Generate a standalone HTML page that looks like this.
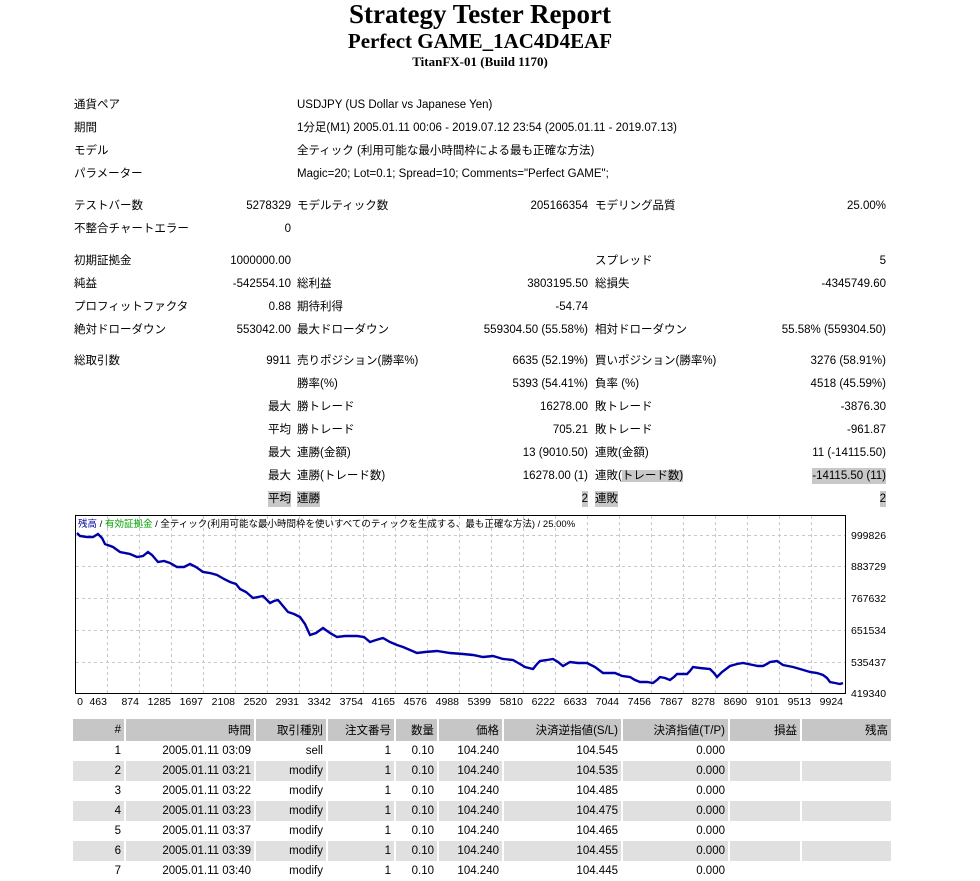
<!DOCTYPE html>
<html><head><meta charset="utf-8"><style>
body{margin:0;width:980px;height:881px;background:#fff;position:relative;overflow:hidden;font-family:"Liberation Sans","Noto Sans CJK JP",sans-serif;font-size:11.5px;color:#000}
.t{position:absolute;white-space:nowrap;line-height:16px}
.r{text-align:right}
.h{font-family:"Liberation Serif","Noto Serif CJK SC",serif;font-weight:bold;position:absolute;left:0;width:960px;text-align:center;white-space:nowrap}
.g{background:#c8c8c8}
.w{position:absolute;left:0;top:2px;width:980px;height:520px}
table{position:absolute;left:71px;top:719px;border-collapse:separate;border-spacing:2px 0;font-size:11.5px}
td{height:20px;padding:0 3px;text-align:right;white-space:nowrap;border-bottom:0}
tr.hd td{background:#c6c6c6;height:22px}
tr.e td{background:#e0e0e0}
</style></head><body>
<div class="h" style="top:-1px;font-size:27px">Strategy Tester Report</div>
<div class="h" style="top:29px;font-size:21px">Perfect GAME_1AC4D4EAF</div>
<div class="h" style="top:54px;font-size:13px">TitanFX-01 (Build 1170)</div>

<div class="t" style="left:74px;top:97px">通貨ペア</div><div class="t" style="left:297px;top:97px">USDJPY (US Dollar vs Japanese Yen)</div>
<div class="t" style="left:74px;top:120px">期間</div><div class="t" style="left:297px;top:120px">1分足(M1) 2005.01.11 00:06 - 2019.07.12 23:54 (2005.01.11 - 2019.07.13)</div>
<div class="t" style="left:74px;top:143px">モデル</div><div class="t" style="left:297px;top:143px">全ティック (利用可能な最小時間枠による最も正確な方法)</div>
<div class="t" style="left:74px;top:166px">パラメーター</div><div class="t" style="left:297px;top:166px">Magic=20; Lot=0.1; Spread=10; Comments="Perfect GAME";</div>

<div class="w">
<div class="t" style="left:74px;top:196px">テストバー数</div><div class="t r" style="right:689px;top:196px">5278329</div>
<div class="t" style="left:297px;top:196px">モデルティック数</div><div class="t r" style="right:392px;top:196px">205166354</div>
<div class="t" style="left:595px;top:196px">モデリング品質</div><div class="t r" style="right:94px;top:196px">25.00%</div>
<div class="t" style="left:74px;top:219px">不整合チャートエラー</div><div class="t r" style="right:689px;top:219px">0</div>

<div class="t" style="left:74px;top:251px">初期証拠金</div><div class="t r" style="right:689px;top:251px">1000000.00</div>
<div class="t" style="left:595px;top:251px">スプレッド</div><div class="t r" style="right:94px;top:251px">5</div>
<div class="t" style="left:74px;top:274px">純益</div><div class="t r" style="right:689px;top:274px">-542554.10</div>
<div class="t" style="left:297px;top:274px">総利益</div><div class="t r" style="right:392px;top:274px">3803195.50</div>
<div class="t" style="left:595px;top:274px">総損失</div><div class="t r" style="right:94px;top:274px">-4345749.60</div>
<div class="t" style="left:74px;top:297px">プロフィットファクタ</div><div class="t r" style="right:689px;top:297px">0.88</div>
<div class="t" style="left:297px;top:297px">期待利得</div><div class="t r" style="right:392px;top:297px">-54.74</div>
<div class="t" style="left:74px;top:320px">絶対ドローダウン</div><div class="t r" style="right:689px;top:320px">553042.00</div>
<div class="t" style="left:297px;top:320px">最大ドローダウン</div><div class="t r" style="right:392px;top:320px">559304.50 (55.58%)</div>
<div class="t" style="left:595px;top:320px">相対ドローダウン</div><div class="t r" style="right:94px;top:320px">55.58% (559304.50)</div>

<div class="t" style="left:74px;top:351px">総取引数</div><div class="t r" style="right:689px;top:351px">9911</div>
<div class="t" style="left:297px;top:351px">売りポジション(勝率%)</div><div class="t r" style="right:392px;top:351px">6635 (52.19%)</div>
<div class="t" style="left:595px;top:351px">買いポジション(勝率%)</div><div class="t r" style="right:94px;top:351px">3276 (58.91%)</div>
<div class="t" style="left:297px;top:374px">勝率(%)</div><div class="t r" style="right:392px;top:374px">5393 (54.41%)</div>
<div class="t" style="left:595px;top:374px">負率 (%)</div><div class="t r" style="right:94px;top:374px">4518 (45.59%)</div>
<div class="t r" style="right:689px;top:397px">最大</div><div class="t" style="left:297px;top:397px">勝トレード</div><div class="t r" style="right:392px;top:397px">16278.00</div>
<div class="t" style="left:595px;top:397px">敗トレード</div><div class="t r" style="right:94px;top:397px">-3876.30</div>
<div class="t r" style="right:689px;top:420px">平均</div><div class="t" style="left:297px;top:420px">勝トレード</div><div class="t r" style="right:392px;top:420px">705.21</div>
<div class="t" style="left:595px;top:420px">敗トレード</div><div class="t r" style="right:94px;top:420px">-961.87</div>
<div class="t r" style="right:689px;top:443px">最大</div><div class="t" style="left:297px;top:443px">連勝(金額)</div><div class="t r" style="right:392px;top:443px">13 (9010.50)</div>
<div class="t" style="left:595px;top:443px">連敗(金額)</div><div class="t r" style="right:94px;top:443px">11 (-14115.50)</div>
<div class="t r" style="right:689px;top:466px">最大</div><div class="t" style="left:297px;top:466px">連勝(トレード数)</div><div class="t r" style="right:392px;top:466px">16278.00 (1)</div>
<div class="t" style="left:595px;top:466px">連敗(<span class="g">トレード数)</span></div><div class="t r g" style="right:94px;top:466px">-14115.50 (11)</div>
<div class="t r g" style="right:689px;top:489px">平均</div><div class="t g" style="left:297px;top:489px">連勝</div><div class="t r g" style="right:392px;top:489px">2</div>
<div class="t g" style="left:595px;top:489px">連敗</div><div class="t r g" style="right:94px;top:489px">2</div>
</div>

<svg width="980" height="881" style="position:absolute;left:0;top:0" font-family="Liberation Sans, Noto Sans CJK JP, sans-serif">
<g stroke="#c8c8c8" stroke-dasharray="3,3" stroke-width="1">
<path d="M76 535.5H845M76 566.5H845M76 598.5H845M76 630.5H845M76 662.5H845"/>
<path d="M107.5 516V693M139.5 516V693M171.5 516V693M203.5 516V693M235.5 516V693M267.5 516V693M299.5 516V693M331.5 516V693M363.5 516V693M395.5 516V693M427.5 516V693M459.5 516V693M491.5 516V693M523.5 516V693M555.5 516V693M587.5 516V693M619.5 516V693M651.5 516V693M683.5 516V693M715.5 516V693M747.5 516V693M779.5 516V693M811.5 516V693"/>
</g>
<rect x="75.5" y="515.5" width="770" height="178" fill="none" stroke="#000"/>
<polyline fill="none" stroke="#0000a8" stroke-width="2.4" points="77,533 80,536 87,537 93,537 98,534 102,538 105,544 113,547 120,552 130,554 137,557 143,556 148,552 152,555 158,562 164,561 170,563 177,567 184,567 190,564 196,567 203,572 210,573 217,575 224,579 230,582 236,584 240,589 246,592 253,598 258,597 263,596 266,599 270,603 274,601 278,600 283,606 288,612 294,614 300,617 305,624 310,635 316,633 323,628 330,633 337,637 345,636 357,636 364,637 370,642 376,640 383,638 390,642 397,645 403,647 410,650 417,653 425,652 437,651 450,653 463,654 473,655 483,657 493,656 503,659 513,660 520,664 525,667 533,669 537,664 540,661 547,660 553,659 558,662 563,666 570,662 578,663 587,663 595,667 603,673 609,673 615,673 622,676 630,677 635,680 640,682 647,682 653,683 657,680 660,677 665,678 670,680 674,677 677,674 682,674 687,674 690,671 693,667 700,668 710,669 714,673 717,677 722,672 730,666 737,664 743,663 748,664 753,665 758,666 763,666 767,664 770,662 777,661 780,663 783,665 788,666 793,667 800,669 810,672 817,673 823,675 827,678 830,682 835,683 840,684 843,683"/>
<g font-size="10.5" fill="#000">
<text x="851" y="539">999826</text><text x="851" y="570">883729</text><text x="851" y="602">767632</text><text x="851" y="634">651534</text><text x="851" y="666">535437</text><text x="851" y="697">419340</text>
</g>
<g font-size="10.5" fill="#000" text-anchor="end">
<text x="83" y="705">0</text><text x="107" y="705">463</text><text x="139" y="705">874</text><text x="171" y="705">1285</text><text x="203" y="705">1697</text><text x="235" y="705">2108</text><text x="267" y="705">2520</text><text x="299" y="705">2931</text><text x="331" y="705">3342</text><text x="363" y="705">3754</text><text x="395" y="705">4165</text><text x="427" y="705">4576</text><text x="459" y="705">4988</text><text x="491" y="705">5399</text><text x="523" y="705">5810</text><text x="555" y="705">6222</text><text x="587" y="705">6633</text><text x="619" y="705">7044</text><text x="651" y="705">7456</text><text x="683" y="705">7867</text><text x="715" y="705">8278</text><text x="747" y="705">8690</text><text x="779" y="705">9101</text><text x="811" y="705">9513</text><text x="843" y="705">9924</text>
</g>
<text x="78" y="527" font-size="9.5"><tspan fill="#0000a0">残高</tspan> / <tspan fill="#00a000">有効証拠金</tspan> / 全ティック(利用可能な最小時間枠を使いすべてのティックを生成する、最も正確な方法) / 25.00%</text>
</svg>

<table>
<tr class="hd"><td style="width:45px">#</td><td style="width:122px">時間</td><td style="width:64px">取引種別</td><td style="width:60px">注文番号</td><td style="width:35px">数量</td><td style="width:57px">価格</td><td style="width:111px">決済逆指値(S/L)</td><td style="width:99px">決済指値(T/P)</td><td style="width:64px">損益</td><td style="width:83px">残高</td></tr>
<tr><td>1</td><td>2005.01.11 03:09</td><td>sell</td><td>1</td><td>0.10</td><td>104.240</td><td>104.545</td><td>0.000</td><td></td><td></td></tr>
<tr class="e"><td>2</td><td>2005.01.11 03:21</td><td>modify</td><td>1</td><td>0.10</td><td>104.240</td><td>104.535</td><td>0.000</td><td></td><td></td></tr>
<tr><td>3</td><td>2005.01.11 03:22</td><td>modify</td><td>1</td><td>0.10</td><td>104.240</td><td>104.485</td><td>0.000</td><td></td><td></td></tr>
<tr class="e"><td>4</td><td>2005.01.11 03:23</td><td>modify</td><td>1</td><td>0.10</td><td>104.240</td><td>104.475</td><td>0.000</td><td></td><td></td></tr>
<tr><td>5</td><td>2005.01.11 03:37</td><td>modify</td><td>1</td><td>0.10</td><td>104.240</td><td>104.465</td><td>0.000</td><td></td><td></td></tr>
<tr class="e"><td>6</td><td>2005.01.11 03:39</td><td>modify</td><td>1</td><td>0.10</td><td>104.240</td><td>104.455</td><td>0.000</td><td></td><td></td></tr>
<tr><td>7</td><td>2005.01.11 03:40</td><td>modify</td><td>1</td><td>0.10</td><td>104.240</td><td>104.445</td><td>0.000</td><td></td><td></td></tr>
</table>
</body></html>
